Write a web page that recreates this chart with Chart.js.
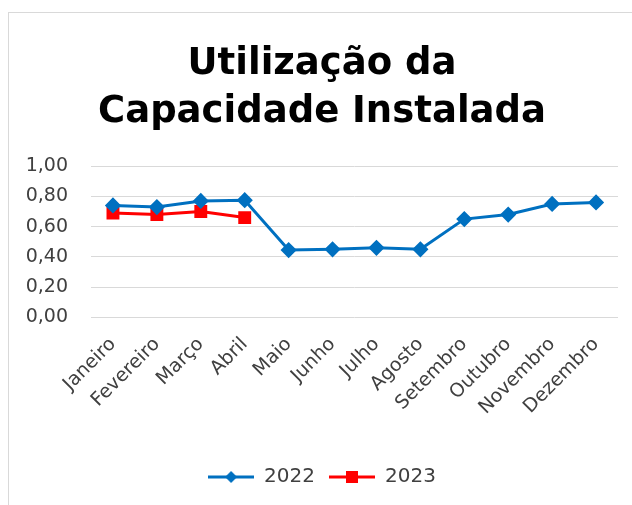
<!DOCTYPE html>
<html>
<head>
<meta charset="utf-8">
<script src="https://cdn.jsdelivr.net/npm/chart.js@4.4.0/dist/chart.umd.min.js"></script>
<style>
	html, body { margin: 0; padding: 0; background: #fff; }
	#frame { position: absolute; left: 8px; top: 12px; width: 640px; height: 510px; border: 1px solid #d9d9d9; box-sizing: border-box; }
	#wrap { position: absolute; left: 0; top: 0; width: 632px; height: 505px; }
</style>
</head>
<body>
<div id="frame"></div>
<div id="wrap"><canvas id="capChart"></canvas></div>
<script>
'use strict';
const aryMonths = ['Janeiro', 'Fevereiro', 'Março', 'Abril', 'Maio', 'Junho', 'Julho', 'Agosto', 'Setembro', 'Outubro', 'Novembro', 'Dezembro'];
const ary2022 = [0.74, 0.73, 0.77, 0.775, 0.445, 0.45, 0.46, 0.45, 0.65, 0.68, 0.75, 0.76];
const ary2023 = [0.69, 0.68, 0.70, 0.66];
const aryTitle = ['Utilização da', 'Capacidade Instalada'];

const blue = 'rgb(0, 112, 192)';
const red = 'rgb(255, 0, 0)';
const textColor = '#404040';
const fontFamily = "'DejaVu Sans', sans-serif";

// legend icon: line with the marker in the middle
function legendIcon(color, style) {
	const c = document.createElement('canvas');
	c.width = 46;
	c.height = 16;
	const ctx = c.getContext('2d');
	ctx.strokeStyle = color;
	ctx.fillStyle = color;
	ctx.lineWidth = 3;
	ctx.beginPath();
	ctx.moveTo(0, 8);
	ctx.lineTo(46, 8);
	ctx.stroke();
	ctx.beginPath();
	if (style === 'rectRot') {
		ctx.moveTo(23, 2); ctx.lineTo(29, 8); ctx.lineTo(23, 14); ctx.lineTo(17, 8);
	} else {
		ctx.rect(17, 2, 12, 12);
	}
	ctx.closePath();
	ctx.fill();
	return c;
}

new Chart(document.getElementById('capChart'), {
	type: 'line',
	data: {
		labels: aryMonths,
		datasets: [
			{
				label: '2022',
				data: ary2022,
				borderColor: blue,
				backgroundColor: blue,
				borderWidth: 3,
				pointStyle: 'rectRot',
				pointRadius: 6,
				pointHoverRadius: 6,
			},
			{
				label: '2023',
				data: ary2023,
				borderColor: red,
				backgroundColor: red,
				borderWidth: 3,
				pointStyle: 'rect',
				pointRadius: 7,
				pointHoverRadius: 7,
			},
		],
	},
	options: {
		responsive: true,
		maintainAspectRatio: false,
		animation: false,
		layout: { padding: { left: 26, right: 14, top: 40, bottom: 8 } },
		plugins: {
			title: {
				display: true,
				text: aryTitle,
				color: '#000',
				font: { family: fontFamily, size: 37, weight: 'bold', lineHeight: 1.3 },
				padding: { top: 0, bottom: 30 },
			},
			legend: {
				position: 'bottom',
				labels: {
					usePointStyle: true,
					pointStyleWidth: 46,
					boxHeight: 16,
					color: textColor,
					font: { family: fontFamily, size: 20 },
					padding: 14,
					generateLabels: function (chart) {
						const items = Chart.defaults.plugins.legend.labels.generateLabels(chart);
						items.forEach((item, i) => {
							const ds = chart.data.datasets[i];
							item.pointStyle = legendIcon(ds.borderColor, ds.pointStyle);
						});
						return items;
					},
				},
			},
			tooltip: { enabled: false },
		},
		scales: {
			x: {
				offset: true,
				grid: { display: false },
				border: { display: false },
				ticks: {
					color: textColor,
					font: { family: fontFamily, size: 19 },
					minRotation: 45,
					maxRotation: 45,
					padding: 8,
				},
				afterFit: (scale) => {
					scale.height += 26;
					scale.paddingLeft = 0;
					scale.paddingRight = 0;
				},
			},
			y: {
				min: 0,
				max: 1,
				grid: { color: '#d9d9d9', drawTicks: false },
				border: { display: false },
				ticks: {
					stepSize: 0.2,
					color: textColor,
					font: { family: fontFamily, size: 19 },
					padding: 23,
					callback: (v) => v.toFixed(2).replace('.', ','),
				},
				afterFit: (scale) => { scale.width = 65; },
			},
		},
	},
});
</script>
</body>
</html>
